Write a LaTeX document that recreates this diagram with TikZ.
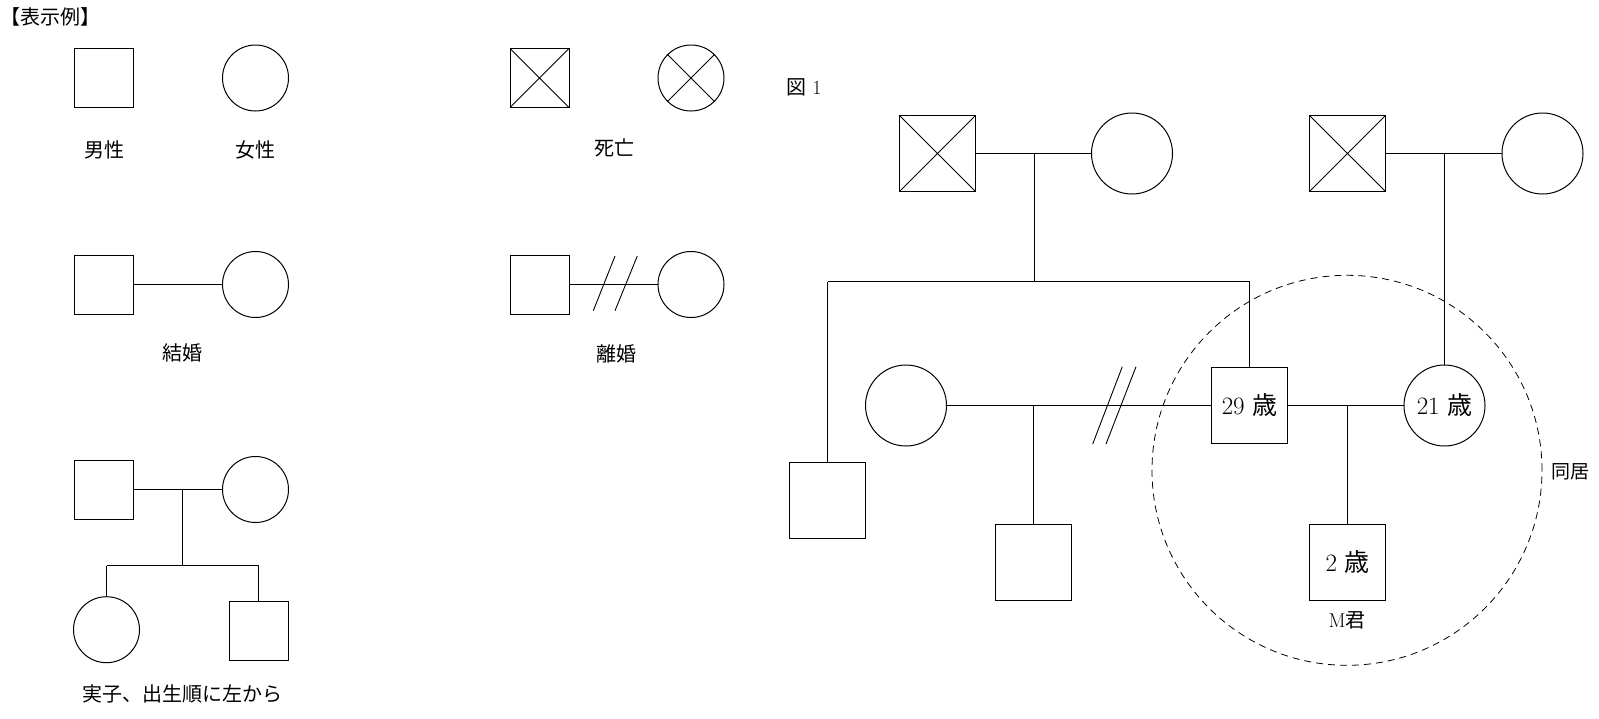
\documentclass[tikz,border=0pt]{standalone}
\usepackage{fontspec}
\newfontfamily\cjk{Noto Sans CJK JP}
\begin{document}
\begin{tikzpicture}[x=1pt,y=-1pt, line width=1pt,
 sq/.style={draw, minimum size=59pt, inner sep=0},
 ci/.style={circle, draw, minimum size=66pt, inner sep=0},
 bsq/.style={draw, minimum size=76pt, inner sep=0, font=\fontsize{25}{30}\selectfont},
 bci/.style={circle, draw, minimum size=81pt, inner sep=0, font=\fontsize{25}{30}\selectfont},
 deadsq/.style={path picture={\draw (path picture bounding box.north west) -- (path picture bounding box.south east) (path picture bounding box.north east) -- (path picture bounding box.south west);}},
 lbl/.style={font=\cjk\fontsize{20}{24}\selectfont, inner sep=0},
 cohab/.style={circle, draw, dashed, line width=0.8pt, dash pattern=on 7pt off 5pt, minimum size=390pt, inner sep=0}
]
\useasboundingbox (0,0) rectangle (1599,718);
\fill[white] (0,0) rectangle (1599,718);

% ---------- legend ----------
\node[lbl, anchor=west] (title) at (0,17) {【表示例】};

\node[sq] (lm1) at (104,78) {};
\node[ci] (lf1) at (255.5,78) {};
\node[lbl] (t1) at (104,150) {男性};
\node[lbl] (t2) at (255.5,150) {女性};

\node[sq, deadsq] (ld1) at (539.5,78) {};
\node[ci] (ld2) at (691,78) {};
\draw (ld2.45) -- (ld2.225) (ld2.135) -- (ld2.315);
\node[lbl] (t3) at (614,148) {死亡};

\node[sq] (lm2) at (104,284.5) {};
\node[ci] (lf2) at (255.5,284.5) {};
\draw (lm2) -- (lf2);
\node[lbl] (t4) at (182,353) {結婚};

\node[sq] (lm3) at (539.5,284.5) {};
\node[ci] (lf3) at (691,284.5) {};
\draw (lm3) -- (lf3);
\coordinate (ls1a) at (593.3,310.7); \coordinate (ls1b) at (615,256);
\coordinate (ls2a) at (615,310.7); \coordinate (ls2b) at (637.3,256);
\draw[line width=0.9pt] (ls1a) -- (ls1b) (ls2a) -- (ls2b);
\node[lbl] (t5) at (616,354) {離婚};

\node[sq] (lm4) at (104,489.5) {};
\node[ci] (lf4) at (255.5,489.5) {};
\draw (lm4) -- (lf4);
\coordinate (lj) at (182.5,489.5);
\coordinate (ljb) at (182.5,565.5);
\coordinate (lcL) at (106.5,565.5);
\coordinate (lcR) at (258.5,565.5);
\draw (lj) -- (ljb);
\draw (lcL) -- (lcR);
\node[ci] (lc1) at (106.5,629.7) {};
\node[sq] (lc2) at (258.5,630.7) {};
\draw (lcL) -- (lc1);
\draw (lcR) -- (lc2);
\node[lbl] (t6) at (182,694) {実子、出生順に左から};

% ---------- figure 1 ----------
\node[inner sep=0, font=\fontsize{20}{24}\selectfont] (fig) at (804,87) {{\cjk 図} 1};

\node[bsq, deadsq] (g1) at (937.5,153.5) {};
\node[bci] (g1w) at (1132,153.5) {};
\draw (g1) -- (g1w);
\node[bsq, deadsq] (g2) at (1347.5,153.5) {};
\node[bci] (g2w) at (1542.5,153.5) {};
\draw (g2) -- (g2w);

\coordinate (j1) at (1034.5,153.5);
\coordinate (j1b) at (1034.5,281.5);
\coordinate (sL) at (827.5,281.5);
\coordinate (sR) at (1249.5,281.5);
\draw (j1) -- (j1b);
\draw (sL) -- (sR);

\node[bsq] (s1) at (827.5,500.5) {};
\node[bci] (ex) at (906,405.5) {};
\node[bsq] (dad) at (1249.5,405.5) {29 {\cjk 歳}};
\node[bci] (mom) at (1444.5,405.5) {21 {\cjk 歳}};
\draw (sL) -- (s1);
\draw (sR) -- (dad);

\coordinate (j2) at (1444.5,153.5);
\draw (j2) -- (mom);

\draw (ex) -- (dad);
\coordinate (ms1a) at (1092.7,444); \coordinate (ms1b) at (1122.3,366.7);
\coordinate (ms2a) at (1106,444); \coordinate (ms2b) at (1136,366.7);
\draw[line width=0.9pt] (ms1a) -- (ms1b) (ms2a) -- (ms2b);

\coordinate (j3) at (1033.5,405.5);
\node[bsq] (c1) at (1033.5,562.5) {};
\draw (j3) -- (c1);

\draw (dad) -- (mom);
\coordinate (j4) at (1347.5,405.5);
\node[bsq] (m) at (1347.5,562.5) {2 {\cjk 歳}};
\draw (j4) -- (m);
\node[inner sep=0, font=\fontsize{20}{24}\selectfont] (mlbl) at (1347,620) {M{\cjk 君}};

\node[cohab] (home) at (1347,470.3) {};
\node[lbl, font=\cjk\fontsize{19}{23}\selectfont] (t7) at (1570,472) {同居};
\end{tikzpicture}
\end{document}
